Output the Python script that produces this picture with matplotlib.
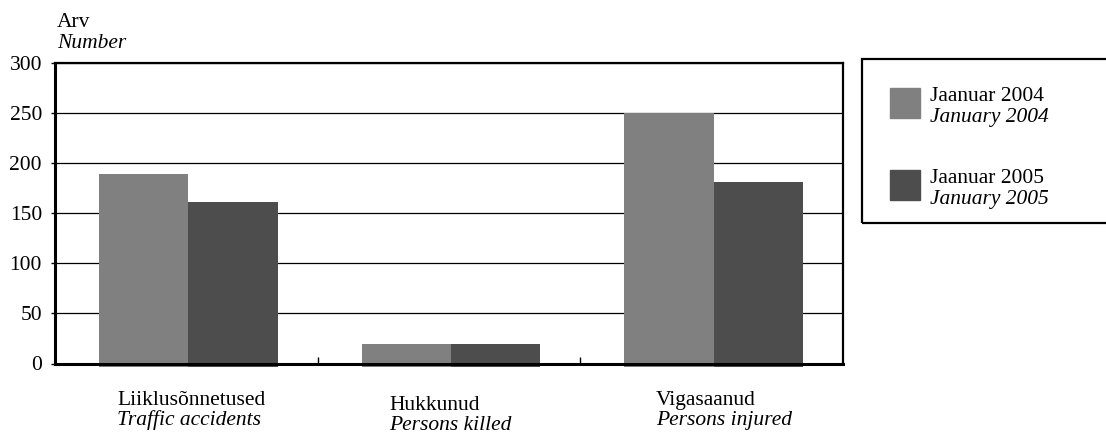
""" Traffic accidents, January 2004 vs January 2005 """

import matplotlib.pyplot as plt
import numpy as np
from matplotlib.patches import Rectangle

categories_et = ["Liiklusõnnetused", "Hukkunud", "Vigasaanud"]
categories_en = ["Traffic accidents", "Persons killed", "Persons injured"]
series_et = ["Jaanuar 2004", "Jaanuar 2005"]
series_en = ["January 2004", "January 2005"]
values_2004 = [189, 19, 250]
values_2005 = [161, 19, 181]
colors = ["#808080", "#4d4d4d"]

W, H = 1106, 434
plt.rcParams["font.family"] = ["Liberation Serif", "DejaVu Serif"]
plt.rcParams["font.size"] = 15.5


def px(x, y):
    """pixel position (from top left) to figure fraction"""
    return x / W, 1 - y / H


fig = plt.figure(figsize=(W / 100, H / 100), dpi=100)
ax = fig.add_axes([55 / W, (H - 363.5) / H, 788 / W, 300.5 / H])

x = np.arange(len(categories_et))
width = 0.34
sink = 3  # bars hang a little below the axis line
for i, vals in enumerate([values_2004, values_2005]):
    offs = (i - 0.5) * width + 0.008
    ax.bar(x + offs, np.array(vals) + sink, width, bottom=-sink,
           color=colors[i], clip_on=False, zorder=2)

ax.set_xlim(-0.5, 2.5)
ax.set_ylim(0, 300)
ax.set_yticks(range(0, 301, 50))
ax.yaxis.grid(True, color="black", lw=0.9)
ax.set_axisbelow(True)
ax.set_xticks([0.5, 1.5])
ax.set_xticklabels([])
ax.tick_params(axis="x", direction="in", length=5, width=1)
ax.tick_params(axis="y", length=3, width=1, pad=6.4)
for side in ["left", "bottom"]:
    ax.spines[side].set_linewidth(2.2)
for side in ["top", "right"]:
    ax.spines[side].set_linewidth(1.6)

fig.text(*px(57, 27), "Arv", va="baseline")
fig.text(*px(57, 48), "Number", style="italic", va="baseline")

# category labels under the bars
label_pos = [(117, 405), (389, 410), (656, 405)]
for (lx, ly), et, en in zip(label_pos, categories_et, categories_en):
    fig.text(*px(lx, ly), et, va="baseline")
    fig.text(*px(lx, ly + 20.5), en, style="italic", va="baseline")

# legend box
fig.add_artist(Rectangle(px(862, 223), (1112 - 862) / W, (223 - 59) / H,
                         transform=fig.transFigure, fill=False,
                         edgecolor="black", lw=1.6))
for i in range(2):
    top = 88 + i * 82
    fig.add_artist(Rectangle(px(890, top + 30), 30 / W, 30 / H,
                             transform=fig.transFigure, color=colors[i]))
    fig.text(*px(930, top + 13), series_et[i], va="baseline")
    fig.text(*px(930, top + 34), series_en[i], style="italic", va="baseline")

fig.savefig("out.png", dpi=100)
